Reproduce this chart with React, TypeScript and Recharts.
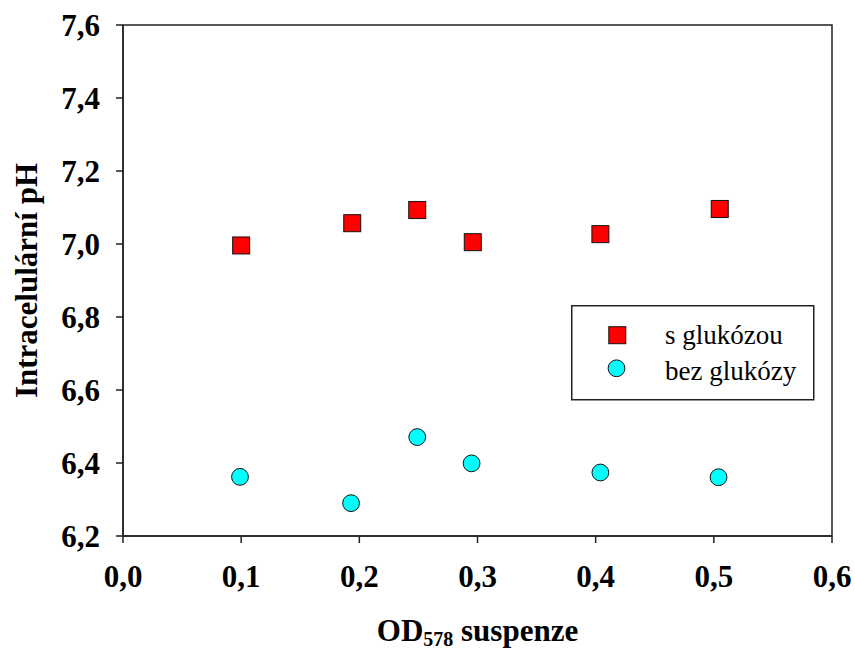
import {
  ScatterChart,
  Scatter,
  XAxis,
  YAxis,
  Legend,
  Label,
  ReferenceArea,
} from 'recharts';

const FONT = '"Liberation Serif", "Times New Roman", serif';

// OD578 of the suspension vs. intracellular pH
const withGlucoseOD = [0.1, 0.194, 0.249, 0.296, 0.404, 0.505];
const withGlucosePH = [6.996, 7.057, 7.093, 7.005, 7.027, 7.096];
const noGlucoseOD = [0.099, 0.193, 0.249, 0.295, 0.404, 0.504];
const noGlucosePH = [6.362, 6.29, 6.471, 6.399, 6.374, 6.361];

const xTicks = [0, 0.1, 0.2, 0.3, 0.4, 0.5, 0.6];
const yTicks = [6.2, 6.4, 6.6, 6.8, 7.0, 7.2, 7.4, 7.6];

const seriesNames = ['s glukózou', 'bez glukózy'];

const withGlucose = withGlucoseOD.map((od, i) => ({ od, ph: withGlucosePH[i] }));
const noGlucose = noGlucoseOD.map((od, i) => ({ od, ph: noGlucosePH[i] }));

const fmt = (v: number) => v.toFixed(1).replace('.', ',');

function SquareDot(props: any) {
  const { cx, cy } = props;
  if (cx == null || cy == null) return null;
  return <rect x={cx - 8.5} y={cy - 8.5} width={17} height={17} fill="#ff0000" stroke="#111" strokeWidth={1} />;
}

function CircleDot(props: any) {
  const { cx, cy } = props;
  if (cx == null || cy == null) return null;
  return <circle cx={cx} cy={cy} r={8.4} fill="#00ffff" stroke="#111" strokeWidth={1} />;
}

function LegendBox() {
  return (
    <svg width={244} height={96} style={{ display: 'block' }}>
      <rect x={0.75} y={0.75} width={242} height={94} fill="#fff" stroke="#222" strokeWidth={1.5} />
      <rect x={37.8} y={21.7} width={17} height={17} fill="#ff0000" stroke="#111" strokeWidth={1} />
      <circle cx={45.5} cy={63.3} r={8.4} fill="#00ffff" stroke="#111" strokeWidth={1} />
      <text x={94} y={38.5} fontFamily={FONT} fontSize={27} fill="#000">{seriesNames[0]}</text>
      <text x={94} y={74.5} fontFamily={FONT} fontSize={27} fill="#000">{seriesNames[1]}</text>
    </svg>
  );
}

function XTitle(props: any) {
  const vb = props.viewBox || {};
  const cx = vb.x + vb.width / 2;
  return (
    <text x={cx} y={vb.y + 105} textAnchor="middle" fontFamily={FONT} fontWeight="bold" fontSize={31} fill="#000" style={{ whiteSpace: 'pre' }}>
      OD<tspan fontSize={20} dy={5}>578</tspan><tspan dy={-5}> suspenze</tspan>
    </text>
  );
}

function YTitle(props: any) {
  const vb = props.viewBox || {};
  const cy = vb.y + vb.height / 2;
  const x = 36.7;
  return (
    <text x={x} y={cy} transform={`rotate(-90, ${x}, ${cy})`} textAnchor="middle" fontFamily={FONT} fontWeight="bold" fontSize={31} fill="#000">
      Intracelulární pH
    </text>
  );
}

export default function App() {
  const tick = { fill: '#000', fontSize: 31, fontWeight: 'bold', fontFamily: FONT };
  return (
    <div style={{ position: 'absolute', left: 0, top: 0, width: 855, height: 651, background: '#fff' }}>
      <ScatterChart width={855} height={651} margin={{ top: 25, right: 23, left: 0, bottom: 0 }}>
        <ReferenceArea x1={0} x2={0.6} y1={6.2} y2={7.6} fill="none" stroke="#222" strokeWidth={1.5} fillOpacity={0} />
        <XAxis
          type="number"
          dataKey="od"
          domain={[0, 0.6]}
          ticks={xTicks}
          tickFormatter={fmt}
          tick={tick}
          tickSize={7}
          tickMargin={22}
          height={115}
          stroke="#222"
          strokeWidth={1.5}
          allowDataOverflow
        >
          <Label content={<XTitle />} />
        </XAxis>
        <YAxis
          type="number"
          dataKey="ph"
          domain={[6.2, 7.6]}
          ticks={yTicks}
          tickFormatter={fmt}
          tick={tick}
          tickSize={7}
          tickMargin={16}
          width={123}
          stroke="#222"
          strokeWidth={1.5}
          allowDataOverflow
        >
          <Label content={<YTitle />} />
        </YAxis>
        <Legend
          layout="vertical"
          align="center"
          verticalAlign="middle"
          content={<LegendBox />}
          wrapperStyle={{ left: 571, top: 305, width: 244, height: 96 }}
        />
        <Scatter name={seriesNames[0]} data={withGlucose} shape={<SquareDot />} isAnimationActive={false} />
        <Scatter name={seriesNames[1]} data={noGlucose} shape={<CircleDot />} isAnimationActive={false} />
      </ScatterChart>
    </div>
  );
}
